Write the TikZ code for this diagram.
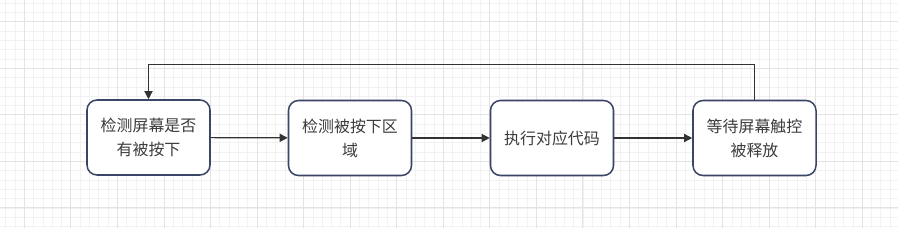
\documentclass[tikz,border=0pt]{standalone}
\usepackage{fontspec}
\newfontfamily\cjk{Noto Sans CJK SC}
\usetikzlibrary{arrows.meta}
\definecolor{boxline}{HTML}{3B4566}
\definecolor{linegray}{HTML}{333333}
\definecolor{textgray}{HTML}{3C3C3C}
\definecolor{gridminor}{HTML}{F2F2F2}
\definecolor{gridmajor}{HTML}{E3E3E3}
\begin{document}
\begin{tikzpicture}[x=0.03cm, y=-0.03cm,
    box/.style={draw=boxline, line width=1.3pt, rounded corners=0.3cm, fill=white,
      minimum width=3.69cm, minimum height=2.25cm, inner sep=0pt, align=center,
      text=textgray, font=\cjk\fontsize{13.6}{20.5}\selectfont},
    flow/.style={-{Triangle[length=7pt, width=7pt]}, line width=1pt, color=linegray}]
    \useasboundingbox (0,0) rectangle (898,228);
    % grid
    \foreach \k in {-2,...,94}
      \draw[gridminor, line width=0.6pt] ({24.3+\k*9.31},0) -- ({24.3+\k*9.31},228);
    \foreach \k in {-2,...,22}
      \draw[gridminor, line width=0.6pt] (0,{21.7+\k*9.31}) -- (898,{21.7+\k*9.31});
    \foreach \m in {0,...,18}
      \draw[gridmajor, line width=0.7pt] ({24.3+\m*46.55},0) -- ({24.3+\m*46.55},228);
    \foreach \m in {0,...,4}
      \draw[gridmajor, line width=0.7pt] (0,{21.7+\m*46.55}) -- (898,{21.7+\m*46.55});
    % steps
    \node (detect) at (148.5,137.5) [box] {检测屏幕是否\\有被按下};
    \node (region) at (350,138) [box] {检测被按下区\\域};
    \node (execute) at (552,138) [box] {执行对应代码};
    \node (release) at (754.5,138) [box] {等待屏幕触控\\被释放};
    \draw[flow] (detect) -- (region);
    \draw[flow] (region) -- (execute);
    \draw[flow] (execute) -- (release);
    \draw[flow] (release.north) -- ++(0,-35) -| (detect.north);
\end{tikzpicture}
\end{document}
